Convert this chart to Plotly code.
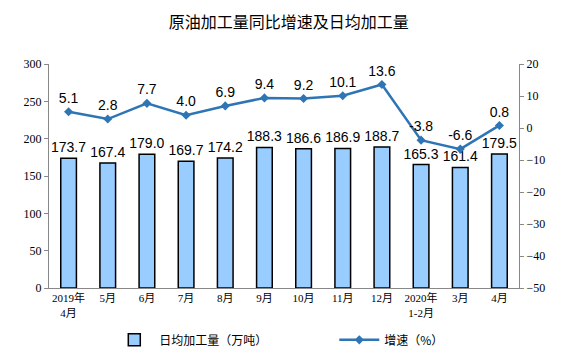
import plotly.graph_objects as go

categories = ["2019年<br>4月", "5月", "6月", "7月", "8月", "9月", "10月", "11月", "12月", "2020年<br>1-2月", "3月", "4月"]
daily_output = [173.7, 167.4, 179.0, 169.7, 174.2, 188.3, 186.6, 186.9, 188.7, 165.3, 161.4, 179.5]
growth = [5.1, 2.8, 7.7, 4.0, 6.9, 9.4, 9.2, 10.1, 13.6, -3.8, -6.6, 0.8]
left_ticks = [0, 50, 100, 150, 200, 250, 300]
right_ticks = [-50, -40, -30, -20, -10, 0, 10, 20]

x_idx = list(range(len(categories)))

fig = go.Figure()
fig.add_trace(go.Bar(
    x=x_idx, y=daily_output, name="日均加工量（万吨）",
    marker=dict(color="#99CCFF", line=dict(color="#000000", width=1.5)),
    text=[f"{v:.1f}" for v in daily_output], textposition="outside",
    constraintext="none",
    textfont=dict(family="Liberation Sans, Arial", size=14, color="#000"),
    cliponaxis=False,
))
fig.add_trace(go.Scatter(
    x=x_idx, y=growth, name="增速（%）", yaxis="y2", mode="lines+markers+text",
    line=dict(color="#2E75B6", width=2.5),
    marker=dict(symbol="diamond", size=7, color="#2E75B6"),
    text=[f"{v:.1f}" for v in growth], textposition="top center",
    textfont=dict(family="Liberation Sans, Arial", size=14, color="#000"),
    cliponaxis=False,
))

fig.update_layout(
    width=561, height=358,
    margin=dict(l=41, r=50, t=56, b=78, autoexpand=False),
    paper_bgcolor="white", plot_bgcolor="white",
    title=dict(text="原油加工量同比增速及日均加工量", x=0.51, xanchor="center", xref="paper",
               yref="container", y=0.961, yanchor="middle",
               font=dict(family="Noto Sans CJK SC", size=16, color="#000")),
    bargap=0.6,
    showlegend=True,
    legend=dict(orientation="h", x=0.607, xanchor="center", yref="container", y=0.073, yanchor="middle",
                font=dict(family="Noto Sans CJK SC", size=12, color="#000"),
                entrywidth=170, itemwidth=40),
    xaxis=dict(tickmode="array", tickvals=x_idx, ticktext=categories, range=[-0.5, 11.5],
               showline=True, linecolor="#888", ticks="", showgrid=False, automargin=False,
               tickfont=dict(family="Liberation Serif, Noto Sans CJK SC", size=11, color="#000")),
    yaxis=dict(range=[0, 300], tickvals=left_ticks, showline=True, linecolor="#888",
               ticks="outside", ticklen=4, tickcolor="#888", showgrid=False, zeroline=False,
               automargin=False,
               tickfont=dict(family="Liberation Serif", size=12, color="#000")),
    yaxis2=dict(range=[-50, 20], tickvals=right_ticks, overlaying="y", side="right",
                showline=True, linecolor="#888", ticks="outside", ticklen=4, tickcolor="#888",
                showgrid=False, zeroline=False, automargin=False,
                tickfont=dict(family="Liberation Serif", size=12, color="#000")),
)

fig.write_html("out.html")
